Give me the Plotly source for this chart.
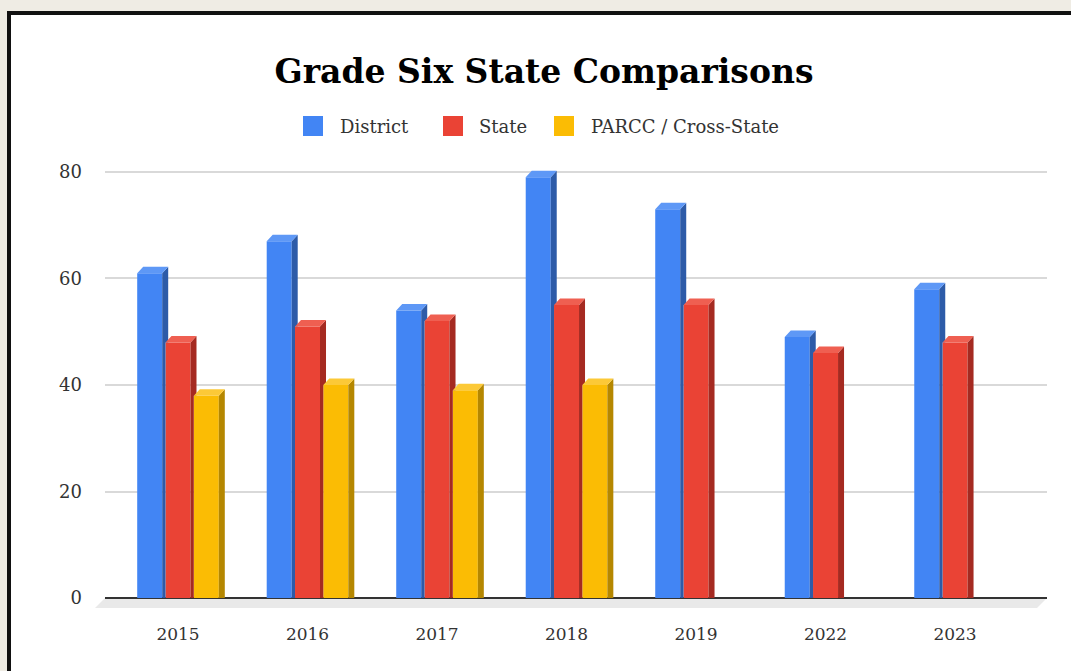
import plotly.graph_objects as go

# ---- data -------------------------------------------------------------
years = ["2015", "2016", "2017", "2018", "2019", "2022", "2023"]
series_names = ["District", "State", "PARCC / Cross-State"]
district = [61, 67, 54, 79, 73, 49, 58]
state = [48, 51, 52, 55, 55, 46, 48]
parcc = [38, 40, 39, 40, None, None, None]
y_ticks = [0, 20, 40, 60, 80]

series_values = [district, state, parcc]

# ---- styling ------------------------------------------------------------
front_colors = ["#4285f4", "#ea4335", "#fbbc04"]
side_colors = ["#2d5ba8", "#a52a21", "#b58700"]
top_colors = ["#5e98f6", "#ef5f51", "#fcc937"]
FONT = "Georgia, 'DejaVu Serif', serif"
TEXT = "#333333"

W, H = 1071, 671
ML, MR, MT, MB = 105, 24, 150, 61
PW, PH = W - ML - MR, H - MT - MB

# axis ranges (category units on x, value units on y)
X_RANGE = [-0.5637, 6.710]
Y_RANGE = [-2.254, 84.13]
px_per_x = PW / (X_RANGE[1] - X_RANGE[0])
px_per_y = PH / (Y_RANGE[1] - Y_RANGE[0])

bar_w = 25 / px_per_x          # front face width
pitch = 28.3 / px_per_x        # distance between neighbouring bars
depth_x = 6 / px_per_x         # 3D depth offset, horizontal
depth_y = 6.5 / px_per_y       # 3D depth offset, vertical
offsets = [-(2 * pitch + bar_w) / 2 + k * pitch for k in range(3)]


def paper_x(px):
    return (px - ML) / PW


def paper_y(py):
    return (H - MB - py) / PH


fig = go.Figure()

xs = list(range(len(years)))

# front faces
for k, vals in enumerate(series_values):
    fig.add_trace(go.Bar(
        x=xs, y=vals, width=bar_w, offset=offsets[k],
        marker=dict(color=front_colors[k], line=dict(width=0)),
        name=series_names[k], showlegend=False, hoverinfo="skip",
    ))

# side and top faces of each bar
for k, vals in enumerate(series_values):
    side_x, side_y, top_x, top_y = [], [], [], []
    for i, v in enumerate(vals):
        if v is None:
            continue
        xl = i + offsets[k]
        xr = xl + bar_w
        nxt = series_values[k + 1][i] if k + 1 < len(series_values) else None
        if nxt is not None and nxt < v + depth_y:
            xn = xr + (pitch - bar_w)
            side_x += [xr, xr, xr + depth_x, xr + depth_x, xn, xn, xr, None]
            side_y += [0, v, v + depth_y, nxt, nxt, 0, 0, None]
        else:
            side_x += [xr, xr, xr + depth_x, xr + depth_x, xr, None]
            side_y += [0, v, v + depth_y, 0, 0, None]
        top_x += [xl, xr, xr + depth_x, xl + depth_x, xl, None]
        top_y += [v, v, v + depth_y, v + depth_y, v, None]
    fig.add_trace(go.Scatter(
        x=side_x, y=side_y, mode="lines", fill="toself",
        fillcolor=side_colors[k], line=dict(width=0, color=side_colors[k]),
        showlegend=False, hoverinfo="skip",
    ))
    fig.add_trace(go.Scatter(
        x=top_x, y=top_y, mode="lines", fill="toself",
        fillcolor=top_colors[k], line=dict(width=0, color=top_colors[k]),
        showlegend=False, hoverinfo="skip",
    ))

shapes = []
# framed white panel on a beige page
shapes.append(dict(
    type="rect", xref="paper", yref="paper", layer="below",
    x0=paper_x(9), x1=paper_x(1100), y0=paper_y(13), y1=paper_y(720),
    fillcolor="white", line=dict(color="#111111", width=4),
))
# floor under the bars
floor_h = 10 / px_per_y
shapes.append(dict(
    type="path", xref="paper", yref="y", layer="below",
    path=(f"M {paper_x(105)},0 L {paper_x(1047)},0 "
          f"L {paper_x(1037)},{-floor_h} L {paper_x(95)},{-floor_h} Z"),
    fillcolor="#e9e9e9", line=dict(width=0),
))

# legend: coloured squares with labels
legend_sq = [303, 443, 554]
legend_tx = [338, 477, 589]
annotations = []
for k, name in enumerate(series_names):
    shapes.append(dict(
        type="rect", xref="paper", yref="paper", layer="above",
        x0=paper_x(legend_sq[k]), x1=paper_x(legend_sq[k] + 20),
        y0=paper_y(136), y1=paper_y(116),
        fillcolor=front_colors[k], line=dict(width=0),
    ))
    annotations.append(dict(
        xref="paper", yref="paper", x=paper_x(legend_tx[k]), y=paper_y(126),
        xanchor="left", yanchor="middle", showarrow=False, text=name,
        font=dict(family=FONT, size=18, color=TEXT),
    ))

fig.update_layout(
    width=W, height=H,
    margin=dict(l=ML, r=MR, t=MT, b=MB),
    paper_bgcolor="#efece4",
    plot_bgcolor="rgba(0,0,0,0)",
    title=dict(
        text="<b>Grade Six State Comparisons</b>",
        x=544 / W, y=1 - 71 / H, xanchor="center", yanchor="middle",
        font=dict(family=FONT, size=33, color="#000000"),
    ),
    barmode="overlay",
    showlegend=False,
    shapes=shapes,
    annotations=annotations,
    xaxis=dict(
        range=X_RANGE, tickmode="array", tickvals=xs, ticktext=years,
        showgrid=False, zeroline=False, showline=False, ticks="",
        tickfont=dict(family=FONT, size=17, color=TEXT),
        ticklabelstandoff=12, fixedrange=True,
    ),
    yaxis=dict(
        range=Y_RANGE, tickmode="array", tickvals=y_ticks,
        ticktext=[str(t) for t in y_ticks],
        showgrid=True, gridcolor="#d9d9d9", gridwidth=1.5,
        zeroline=True, zerolinecolor="#333333", zerolinewidth=1.5,
        showline=False, ticks="",
        tickfont=dict(family=FONT, size=18, color=TEXT),
        ticklabelstandoff=22, fixedrange=True,
    ),
)

fig.write_html("out.html")
